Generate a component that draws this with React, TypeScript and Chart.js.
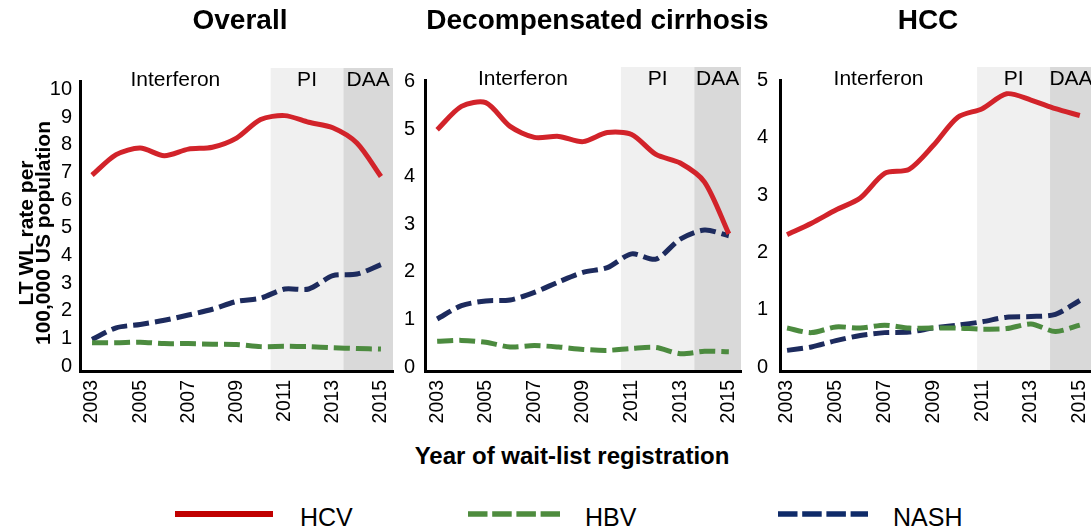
import React, { useEffect, useRef } from 'react';
import { Chart, registerables } from 'chart.js';

Chart.register(...registerables);

const FONT = '"Liberation Sans", Arial, Helvetica, sans-serif';
Chart.defaults.font.family = FONT;

// ---------- data ----------
const years = [2003, 2004, 2005, 2006, 2007, 2008, 2009, 2010, 2011, 2012, 2013, 2014, 2015];
const xTickYears = [2003, 2005, 2007, 2009, 2011, 2013, 2015];

const panelTitles = ['Overall', 'Decompensated cirrhosis', 'HCC'];
const seriesNames = ['HCV', 'HBV', 'NASH'];
const eraLabels = ['Interferon', 'PI', 'DAA'];

// Overall
const hcvOverall = [6.9, 7.64, 7.88, 7.6, 7.84, 7.91, 8.24, 8.91, 9.05, 8.81, 8.61, 8.06, 6.85];
const hbvOverall = [0.85, 0.85, 0.87, 0.82, 0.82, 0.8, 0.79, 0.71, 0.72, 0.71, 0.67, 0.64, 0.62];
const nashOverall = [0.97, 1.39, 1.51, 1.66, 1.85, 2.06, 2.34, 2.46, 2.79, 2.79, 3.27, 3.33, 3.67];

// Decompensated cirrhosis
const hcvDecomp = [4.99, 5.48, 5.56, 5.06, 4.83, 4.85, 4.74, 4.93, 4.89, 4.47, 4.29, 3.89, 2.8];
const hbvDecomp = [0.54, 0.56, 0.52, 0.42, 0.45, 0.42, 0.37, 0.35, 0.39, 0.41, 0.28, 0.33, 0.32];
const nashDecomp = [1.01, 1.29, 1.39, 1.41, 1.57, 1.79, 1.99, 2.09, 2.38, 2.27, 2.69, 2.88, 2.76];

// HCC
const hcvHcc = [2.31, 2.51, 2.74, 2.95, 3.38, 3.45, 3.87, 4.36, 4.51, 4.77, 4.66, 4.51, 4.39];
const hbvHcc = [0.68, 0.6, 0.7, 0.68, 0.73, 0.68, 0.68, 0.68, 0.66, 0.67, 0.75, 0.62, 0.73];
const nashHcc = [0.29, 0.35, 0.46, 0.55, 0.6, 0.61, 0.68, 0.73, 0.79, 0.87, 0.88, 0.92, 1.16];

const yTicksOverall = [0, 1, 2, 3, 4, 5, 6, 7, 8, 9, 10];
const yTicksDecomp = [0, 1, 2, 3, 4, 5, 6];
const yTicksHcc = [0, 1, 2, 3, 4, 5];

// era boundaries (year units) per panel
const piStart = [2010.42, 2010.56, 2010.79];
const daaStart = [2013.44, 2013.58, 2013.78];

// axis ranges per panel
const xMins = [2002.5, 2002.5, 2002.71];
const xMaxs = [2015.5, 2015.5, 2015.5];
const yMins = [-0.17, -0.084, -0.07];
const yMaxs = [10.3, 6.036, 5.01];

// ---------- styles ----------
const lineColors = ['#d2232a', '#4c8b3f', '#1d2b5e'];
const legendColors = ['#c00000', '#4e8c3e', '#0f2b69'];
const PI_FILL = '#f0f0f0';
const DAA_FILL = '#d9d9d9';

const panelSeries = [
  [hcvOverall, hbvOverall, nashOverall],
  [hcvDecomp, hbvDecomp, nashDecomp],
  [hcvHcc, hbvHcc, nashHcc],
];
const panelYTicks = [yTicksOverall, yTicksDecomp, yTicksHcc];

const panelLayout = [
  { left: 0, padTop: 81, padRight: 7, tickPad: 8 },
  { left: 345, padTop: 80, padRight: 4, tickPad: 10 },
  { left: 700, padTop: 80, padRight: 8, tickPad: 12 },
];

const CANVAS_W = 400;
const CANVAS_H = 440;

const eraPlugin = {
  id: 'eras',
  beforeDraw(chart: any, _args: any, opts: any) {
    const { ctx, chartArea, scales } = chart;
    const x = scales.x;
    const top = chartArea.top - 13;
    const bottom = chartArea.bottom;
    const xPi = x.getPixelForValue(opts.pi);
    const xDaa = x.getPixelForValue(opts.daa);
    ctx.save();
    ctx.fillStyle = PI_FILL;
    ctx.fillRect(xPi, top, xDaa - xPi, bottom - top);
    ctx.fillStyle = DAA_FILL;
    ctx.fillRect(xDaa, top, chartArea.right - xDaa, bottom - top);
    ctx.fillStyle = '#000';
    ctx.font = `21px ${FONT}`;
    ctx.textAlign = 'center';
    ctx.textBaseline = 'middle';
    const ty = chartArea.top - 1;
    ctx.fillText(eraLabels[0], (chartArea.left + xPi) / 2, ty);
    ctx.fillText(eraLabels[1], (xPi + xDaa) / 2, ty);
    ctx.fillText(eraLabels[2], (xDaa + chartArea.right) / 2, ty);
    ctx.restore();
  },
};

function makeConfig(i: number): any {
  const series = panelSeries[i];
  const lay = panelLayout[i];
  const yTicks = panelYTicks[i];
  const datasets = series.map((vals, k) => ({
    label: seriesNames[k],
    data: years.map((yr, j) => ({ x: yr, y: vals[j] })),
    borderColor: lineColors[k],
    backgroundColor: lineColors[k],
    borderWidth: 5,
    borderDash: k === 0 ? [] : [16, 6],
    pointRadius: 0,
    tension: 0.28,
    fill: false,
  }));
  return {
    type: 'line',
    data: { datasets },
    plugins: [eraPlugin],
    options: {
      responsive: false,
      animation: false,
      events: [],
      layout: {
        autoPadding: false,
        padding: { top: lay.padTop, right: lay.padRight, left: 0, bottom: 0 },
      },
      plugins: {
        legend: { display: false },
        tooltip: { enabled: false },
        title: { display: false },
        eras: { pi: piStart[i], daa: daaStart[i] },
      },
      scales: {
        x: {
          type: 'linear',
          min: xMins[i],
          max: xMaxs[i],
          afterBuildTicks: (a: any) => {
            a.ticks = xTickYears.map((v) => ({ value: v }));
          },
          afterFit: (s: any) => {
            s.height = CANVAS_H - 371;
            s.paddingLeft = 0;
            s.paddingRight = 0;
          },
          grid: { display: false, drawTicks: false },
          border: { display: true, color: '#000', width: 3 },
          ticks: {
            autoSkip: false,
            minRotation: 90,
            maxRotation: 90,
            padding: 9,
            color: '#000',
            font: { size: 19.5, family: FONT },
            callback: (v: any) => String(v),
          },
        },
        y: {
          type: 'linear',
          min: yMins[i],
          max: yMaxs[i],
          afterBuildTicks: (a: any) => {
            a.ticks = yTicks.map((v) => ({ value: v }));
          },
          afterFit: (s: any) => {
            s.width = 80;
            s.paddingTop = 0;
            s.paddingBottom = 0;
          },
          grid: { display: false, drawTicks: false },
          border: { display: true, color: '#000', width: 3 },
          ticks: {
            padding: lay.tickPad,
            color: '#000',
            font: { size: 20, family: FONT },
            callback: (v: any) => String(v),
          },
        },
      },
    },
  };
}

function Panel({ index }: { index: number }) {
  const ref = useRef<HTMLCanvasElement | null>(null);
  useEffect(() => {
    if (!ref.current) return;
    const chart = new Chart(ref.current, makeConfig(index));
    return () => chart.destroy();
  }, [index]);
  return (
    <canvas
      ref={ref}
      width={CANVAS_W}
      height={CANVAS_H}
      style={{ position: 'absolute', left: panelLayout[index].left, top: 0, width: CANVAS_W, height: CANVAS_H }}
    />
  );
}

const titleCenters = [240, 597.5, 928];
const legendLineX = [
  [175, 273],
  [468, 560],
  [778, 868],
];
const legendTextX = [300, 585, 893];

export default function App() {
  return (
    <div
      style={{
        position: 'fixed',
        left: 0,
        top: 0,
        width: 1091,
        height: 529,
        overflow: 'hidden',
        background: '#fff',
        fontFamily: FONT,
        color: '#000',
      }}
    >
      {[0, 1, 2].map((i) => (
        <Panel key={i} index={i} />
      ))}
      {panelTitles.map((t, i) => (
        <div
          key={t}
          style={{
            position: 'absolute',
            left: titleCenters[i] - 250,
            width: 500,
            top: 6,
            textAlign: 'center',
            fontSize: 28,
            fontWeight: 'bold',
            lineHeight: '28px',
            whiteSpace: 'nowrap',
          }}
        >
          {t}
        </div>
      ))}
      <div
        style={{
          position: 'absolute',
          left: 34 - 140,
          top: 233 - 17,
          width: 280,
          height: 34,
          transform: 'rotate(-90deg)',
          textAlign: 'center',
          fontSize: 21,
          fontWeight: 'bold',
          lineHeight: '17px',
          whiteSpace: 'nowrap',
        }}
      >
        <div>LT WL rate per</div>
        <div>100,000 US population</div>
      </div>
      <div
        style={{
          position: 'absolute',
          left: 572 - 250,
          width: 500,
          top: 444,
          textAlign: 'center',
          fontSize: 24,
          fontWeight: 'bold',
          lineHeight: '24px',
          whiteSpace: 'nowrap',
        }}
      >
        Year of wait-list registration
      </div>
      <svg
        width={1091}
        height={29}
        style={{ position: 'absolute', left: 0, top: 500 }}
      >
        {legendLineX.map(([a, b], k) => (
          <line
            key={k}
            x1={a}
            x2={b}
            y1={14}
            y2={14}
            stroke={legendColors[k]}
            strokeWidth={k === 0 ? 6 : 5.5}
            strokeDasharray={k === 0 ? undefined : '19.5 4.7'}
          />
        ))}
      </svg>
      {seriesNames.map((n, k) => (
        <div
          key={n}
          style={{
            position: 'absolute',
            left: legendTextX[k],
            top: 505,
            fontSize: 25,
            lineHeight: '25px',
            whiteSpace: 'nowrap',
          }}
        >
          {n}
        </div>
      ))}
    </div>
  );
}
